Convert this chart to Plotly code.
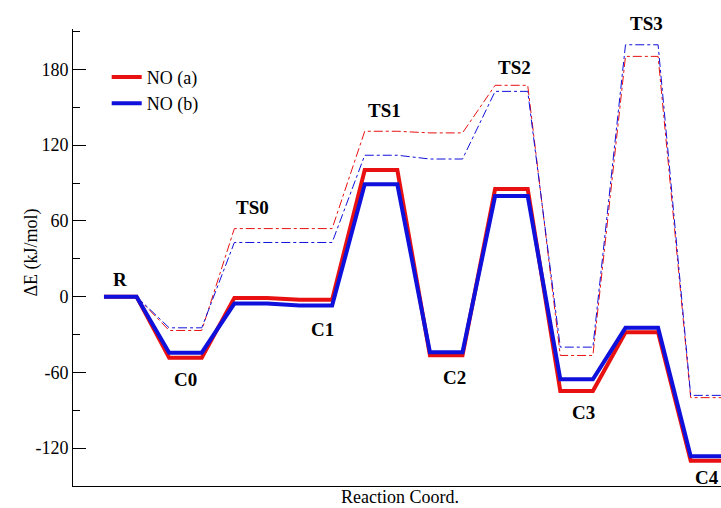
import plotly.graph_objects as go

# States along the reaction coordinate
states = ["R", "C0", "TS0", "C1", "TS1", "C2", "TS2", "C3", "TS3", "C4"]

# Energies (kJ/mol)
solid_a = [0, -48.4, -1.0, -2.4, 100.3, -46.5, 85.3, -74.8, -28.2, -130.0]
solid_b = [0, -44.4, -5.5, -7.1, 89.0, -44.0, 79.7, -65.5, -24.7, -126.5]
dash_a = [0, -26.8, 53.9, 53.9, 131.0, 129.7, 167.4, -46.6, 190.3, -80.0]
dash_b = [0, -24.7, 42.9, 42.9, 112.0, 109.0, 162.6, -40.0, 199.5, -78.2]

y_ticks = [-120, -60, 0, 60, 120, 180]
y_tick_text = ["-120", "-60", "0", "60", "120", "180"]

# label positions (x in state units, y in kJ/mol, extra pixel shift)
label_x = [0.5, 2.5, 4.55, 6.7, 8.6, 10.75, 12.6, 14.7, 16.65, 18.5]
label_y = [13.5, -65.5, 71, -26, 147.5, -64, 181.5, -91.5, 205, -143]
label_shift = [0, 0, 0, 0, 0, 0, 0, 0, 14, 0]


def profile(levels):
    xs, ys = [], []
    for i, v in enumerate(levels):
        xs += [2 * i, 2 * i + 1]
        ys += [v, v]
    return xs, ys


RED = "#e81010"
BLUE = "#1010dc"
SERIF = "Liberation Serif"

fig = go.Figure()
for lv, col in [(dash_a, RED), (dash_b, BLUE)]:
    x, y = profile(lv)
    fig.add_trace(go.Scatter(x=x[1:], y=y[1:], mode="lines", showlegend=False,
                             line=dict(color=col, width=1, dash="dashdot")))
for lv, col, nm in [(solid_a, RED, "NO (a)"), (solid_b, BLUE, "NO (b)")]:
    x, y = profile(lv)
    fig.add_trace(go.Scatter(x=x, y=y, mode="lines", name=nm,
                             line=dict(color=col, width=4)))

for s, lx, ly, sh in zip(states, label_x, label_y, label_shift):
    fig.add_annotation(x=lx, y=ly, xref="x", yref="y", text="<b>%s</b>" % s, yshift=sh,
                       showarrow=False, font=dict(family=SERIF, size=19, color="black"))

fig.add_annotation(x=(400 - 73) / 648, y=0, xref="paper", yref="paper", yanchor="top",
                   yshift=0, text="Reaction Coord.", showarrow=False, borderpad=0,
                   font=dict(family=SERIF, size=18, color="black"))
fig.add_annotation(x=(18 - 73) / 648, y=(486 - 253) / 457, xref="paper", yref="paper",
                   text="ΔE (kJ/mol)", textangle=-90, showarrow=False,
                   font=dict(family=SERIF, size=18, color="black"))

fig.update_layout(
    width=721, height=508,
    margin=dict(l=73, r=0, t=29, b=22),
    paper_bgcolor="white", plot_bgcolor="white",
    font=dict(family=SERIF, size=18, color="black"),
    legend=dict(x=0.052, y=0.935, xanchor="left", yanchor="top", bgcolor="rgba(0,0,0,0)",
                font=dict(family=SERIF, size=18), tracegroupgap=0, itemwidth=30),
    xaxis=dict(range=[-0.95, 18.93], showgrid=False, zeroline=False, showticklabels=False,
               ticks="", showline=True, linecolor="black", linewidth=1),
    yaxis=dict(range=[-150, 212], showgrid=False, zeroline=False, tickvals=y_ticks,
               ticktext=y_tick_text,
               ticks="inside", ticklen=13, tickcolor="black", showline=True,
               linecolor="black", linewidth=1,
               minor=dict(tickvals=[-150, -90, -30, 30, 90, 150, 210], ticks="inside",
                          ticklen=7, tickcolor="black"),
               tickfont=dict(family=SERIF, size=18)),
)
fig.write_html("out.html", config={"displayModeBar": False},
               post_script="document.body.style.margin='0';")
